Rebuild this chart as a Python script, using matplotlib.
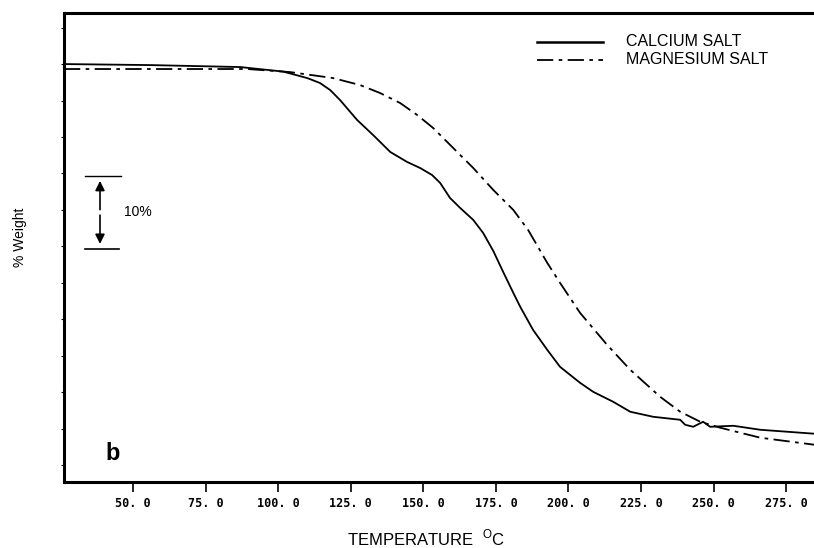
import matplotlib
matplotlib.use("Agg")
import matplotlib.pyplot as plt
import numpy as np

# ---- data (temperature in °C, % weight on a relative scale) ----
ca_temp = [26.2, 55.9, 86.9, 101.7, 110.0, 114.4, 117.9, 121.3, 127.2, 132.7,
           138.6, 144.4, 148.9, 153.0, 155.8, 159.2, 162.7, 167.2, 170.6, 174.1,
           177.5, 181.0, 183.4, 187.8, 192.7, 197.1, 204.0, 208.5, 215.4, 221.3,
           229.2, 238.5, 240.2, 243.0, 246.4, 248.8, 256.8, 266.1, 284.7]
ca_weight = [100.0, 99.86, 99.59, 98.97, 98.08, 97.40, 96.44, 95.07, 92.33, 90.27,
             87.95, 86.58, 85.75, 84.79, 83.70, 81.64, 80.27, 78.63, 76.85, 74.38,
             71.51, 68.63, 66.71, 63.56, 60.82, 58.49, 56.30, 55.07, 53.70, 52.33,
             51.64, 51.23, 50.55, 50.27, 50.96, 50.27, 50.41, 49.86, 49.32]

mg_temp = [26.2, 55.9, 89.3, 104.1, 118.9, 128.2, 135.1, 142.0, 147.9, 153.4,
           160.3, 167.2, 174.1, 181.0, 186.1, 192.7, 197.1, 204.0, 213.3, 221.3,
           231.6, 238.5, 245.4, 252.3, 266.1, 284.7]
mg_weight = [99.32, 99.32, 99.32, 98.90, 98.08, 97.12, 96.03, 94.66, 93.01, 91.23,
             88.49, 85.75, 82.74, 80.00, 77.26, 72.74, 70.00, 65.89, 61.51, 58.08,
             54.38, 52.33, 50.96, 50.14, 48.77, 47.81]

xticks = [50, 75, 100, 125, 150, 175, 200, 225, 250, 275]
xtick_labels = ["50. 0", "75. 0", "100. 0", "125. 0", "150. 0", "175. 0",
                "200. 0", "225. 0", "250. 0", "275. 0"]
series_labels = ["CALCIUM SALT", "MAGNESIUM SALT"]
scale_top, scale_bottom = 84.66, 74.66

plt.rcParams['font.family'] = ['Liberation Sans', 'DejaVu Sans']
plt.rcParams['mathtext.fontset'] = 'custom'
plt.rcParams['mathtext.rm'] = 'Liberation Sans'
fig = plt.figure(figsize=(8.14, 5.48), dpi=100)
ax = fig.add_axes([64/814, 1-482/548, 1-64/814, (482-13)/548])

dashdot = (0, (9, 3, 2, 3))
ax.plot(ca_temp, ca_weight, color='black', lw=1.3, solid_joinstyle='round')
ax.plot(mg_temp, mg_weight, color='black', lw=1.3, linestyle=dashdot)

ax.set_xlim(26.2, 284.6)
ax.set_ylim(42.7, 107.0)

for s in ['top', 'left', 'bottom']:
    ax.spines[s].set_linewidth(2.2)
ax.spines['right'].set_visible(False)

ax.set_xticks(xticks)
ax.set_xticklabels(xtick_labels, fontfamily='DejaVu Sans Mono', fontweight='bold', fontsize=8.5)
ax.tick_params(axis='x', direction='out', length=7, width=1.2, pad=4)
ax.set_yticks(np.arange(45, 107, 5))
ax.set_yticklabels([])
ax.tick_params(axis='y', direction='out', length=2, width=0.8)

fig.text(426/814, 1-538/548, r'TEMPERATURE  $^{\mathrm{O}}$C', ha='center', va='center',
         fontsize=12)
fig.text(20/814, 1-237/548, '% Weight', rotation=90, ha='center', va='center', fontsize=10)

# 10% scale bar
ax.plot([33.5, 45.8], [scale_top, scale_top], color='black', lw=1)
ax.plot([33.5, 45.2], [scale_bottom, scale_bottom], color='black', lw=1.2)
mid = (scale_top + scale_bottom) / 2
ax.annotate('', xy=(38.6, scale_top - 0.3), xytext=(38.6, mid),
            arrowprops=dict(arrowstyle='-|>', color='black', lw=1.2, mutation_scale=14))
ax.annotate('', xy=(38.6, scale_bottom + 0.3), xytext=(38.6, mid),
            arrowprops=dict(arrowstyle='-|>', color='black', lw=1.2, mutation_scale=14))
ax.text(47.0, mid, '10%', fontsize=10, va='center', ha='left')

ax.text(40.5, 46.6, 'b', fontsize=17, fontweight='bold', va='center', ha='left')

# legend drawn by hand in axes fraction
lx0, lx1 = (537-64)/750, (603-64)/750
y1, y2 = 1-(42-13)/469, 1-(60-13)/469
ax.plot([lx0, lx1], [y1, y1], transform=ax.transAxes, color='black', lw=1.8)
ax.plot([lx0, lx1], [y2, y2], transform=ax.transAxes, color='black', lw=1.3, linestyle=dashdot)
ax.text((626-64)/750, y1, series_labels[0], transform=ax.transAxes,
        fontsize=11.5, va='center', ha='left')
ax.text((626-64)/750, y2, series_labels[1], transform=ax.transAxes,
        fontsize=11.5, va='center', ha='left')

fig.savefig('out.png', dpi=100)
